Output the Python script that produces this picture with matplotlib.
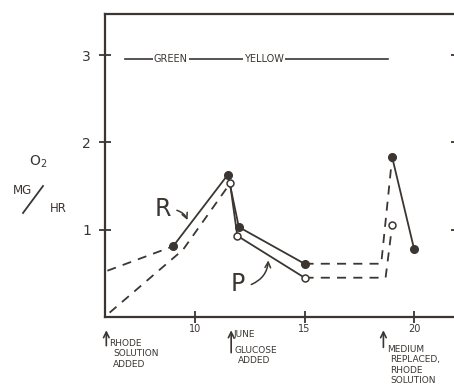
import numpy as np
import matplotlib.pyplot as plt

# R series (filled dots)
r_dash1_x = [6.0, 9.0]
r_dash1_y = [0.53, 0.81]
r_solid1_x = [9.0, 11.5, 12.0, 15.0]
r_solid1_y = [0.81, 1.63, 1.03, 0.61]
r_dash2_x = [15.0, 18.5, 19.0]
r_dash2_y = [0.61, 0.61, 1.83]
r_solid2_x = [19.0, 20.0]
r_solid2_y = [1.83, 0.78]

# P series (open dots)
p_dash1_x = [6.1, 9.45, 11.6]
p_dash1_y = [0.05, 0.77, 1.53]
p_solid_x = [11.6, 11.93, 15.0]
p_solid_y = [1.53, 0.93, 0.45]
p_dash2_x = [15.0, 18.7, 19.0]
p_dash2_y = [0.45, 0.45, 1.05]

yticks = [1, 2, 3]
xticks = [10, 15, 20]

ink = '#3b3632'

fig = plt.figure(figsize=(4.54, 3.92), dpi=100)
ax = fig.add_axes([105 / 454, 75 / 392, 352 / 454, 303 / 392])
ax.set_xlim(5.89, 21.96)
ax.set_ylim(0, 3.47)

for s in ax.spines.values():
    s.set_color(ink)
    s.set_linewidth(1.6)

ax.set_xticks(xticks)
ax.set_yticks(yticks)
ax.tick_params(axis='y', direction='inout', length=8, width=1.3, colors=ink,
               labelsize=10, pad=6, right=True)
ax.tick_params(axis='x', direction='inout', length=8, width=1.3, colors=ink,
               labelsize=7, pad=1)

lw = 1.3
dash = (0, (5, 4))
ax.plot(r_dash1_x, r_dash1_y, color=ink, lw=lw, ls=dash)
ax.plot(r_solid1_x, r_solid1_y, color=ink, lw=lw)
ax.plot(r_dash2_x, r_dash2_y, color=ink, lw=lw, ls=dash)
ax.plot(r_solid2_x, r_solid2_y, color=ink, lw=lw)
ax.plot(p_dash1_x, p_dash1_y, color=ink, lw=lw, ls=dash)
ax.plot(p_solid_x, p_solid_y, color=ink, lw=lw)
ax.plot(p_dash2_x, p_dash2_y, color=ink, lw=lw, ls=dash)

ax.plot(r_solid1_x, r_solid1_y, 'o', color=ink, ms=5.5, ls='none')
ax.plot(r_solid2_x, r_solid2_y, 'o', color=ink, ms=5.5, ls='none')
ax.plot(p_solid_x, p_solid_y, 'o', mfc='white', mec=ink, mew=1.1, ms=5, ls='none')
ax.plot([p_dash2_x[-1]], [p_dash2_y[-1]], 'o', mfc='white', mec=ink, mew=1.1, ms=5)

# colour band
ax.plot([6.8, 18.8], [2.95, 2.95], color=ink, lw=1.2)
box = dict(facecolor='white', edgecolor='none', pad=1)
ax.text(8.9, 2.95, 'GREEN', fontsize=7, color=ink, ha='center', va='center', bbox=box)
ax.text(13.15, 2.95, 'YELLOW', fontsize=7, color=ink, ha='center', va='center', bbox=box)

# R and P labels with curved arrows
ax.text(8.55, 1.24, 'R', fontsize=17, color=ink, ha='center', va='center')
ax.annotate('', xy=(9.7, 1.08), xytext=(9.05, 1.23),
            arrowprops=dict(arrowstyle='->', color=ink, lw=1.1,
                            connectionstyle='arc3,rad=-0.3'))
ax.text(11.95, 0.38, 'P', fontsize=17, color=ink, ha='center', va='center')
ax.annotate('', xy=(13.35, 0.68), xytext=(12.45, 0.36),
            arrowprops=dict(arrowstyle='->', color=ink, lw=1.1,
                            connectionstyle='arc3,rad=0.35'))

# y label
fig.text(38 / 454, 1 - 162 / 392, 'O$_2$', fontsize=10, color=ink, ha='center', va='center')
fig.text(22 / 454, 1 - 191 / 392, 'MG', fontsize=8.5, color=ink, ha='center', va='center')
fig.lines.append(plt.Line2D([43 / 454, 23 / 454], [1 - 186 / 392, 1 - 213 / 392],
                            transform=fig.transFigure, color=ink, lw=1.3))
fig.text(58 / 454, 1 - 208 / 392, 'HR', fontsize=8.5, color=ink, ha='center', va='center')


# event notes under the axis
def note(x, y_top, lines, x_text, y_text):
    ax.annotate('', xy=(x, -0.12), xytext=(x, y_top),
                arrowprops=dict(arrowstyle='->', color=ink, lw=1.2),
                annotation_clip=False)
    for i, t in enumerate(lines):
        ax.text(x_text if i == 0 else x_text + 0.15, y_text - i * 0.12, t,
                fontsize=6.5, color=ink, ha='left', va='center', clip_on=False)


note(5.95, -0.36, ['RHODE', 'SOLUTION', 'ADDED'], 6.1, -0.30)
ax.text(11.75, -0.20, 'JUNE', fontsize=6.5, color=ink, ha='left', va='center', clip_on=False)
note(11.65, -0.44, ['GLUCOSE', 'ADDED'], 11.8, -0.38)
note(18.6, -0.38, ['MEDIUM', 'REPLACED,', 'RHODE', 'SOLUTION'], 18.75, -0.37)

fig.savefig('out.png', dpi=100)
